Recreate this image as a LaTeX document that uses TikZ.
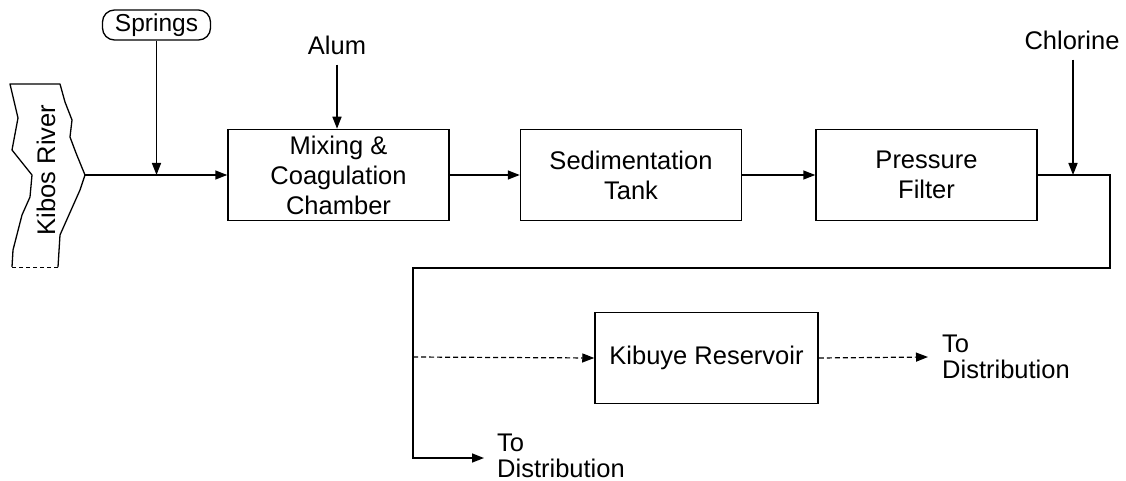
\documentclass[tikz,border=0pt]{standalone}
\usepackage{fontspec}
\setmainfont{Liberation Sans}
\usetikzlibrary{arrows.meta}
\begin{document}
\begin{tikzpicture}[x=1pt,y=-1pt,
  every node/.style={font=\fontsize{25.5}{30}\selectfont},
  processbox/.style={draw, line width=1.5pt, minimum width=221pt, minimum height=91pt, align=center, inner sep=0pt},
  flowarrow/.style={line width=1.6pt, -{Triangle[length=12pt,width=9pt]}},
  dashedarrow/.style={line width=1.2pt, dash pattern=on 5pt off 3pt, -{Triangle[length=12pt,width=9pt]}},
  textlabel/.style={inner sep=0pt},
  outlabel/.style={inner sep=0pt, anchor=base west, align=left, font=\fontsize{25.5}{26}\selectfont}
]
\path[use as bounding box] (0,0) rectangle (1126,481);

% river source outline
\draw[line width=1.3pt, line join=round] (12,267) -- (13,250) -- (22,215) -- (30,197) -- (32,175) -- (12,150) -- (18,118) -- (10,84)
  -- (60,84) -- (65,102) -- (72,120) -- (70,137) -- (76,153) -- (85,175) -- (80,190) -- (60,235) -- (58,267);
\draw[line width=1pt, dash pattern=on 4pt off 3pt] (58,267) -- (12,267);
\node[rotate=90] (river) at (46,170) {Kibos River};
\coordinate (rivout) at (85,175);

% treatment units
\node[processbox] (mix) at (338.5,175) {Mixing \&\\Coagulation\\Chamber};
\node[processbox] (sed) at (631,175) {Sedimentation\\Tank};
\node[processbox] (filt) at (926.5,175) {Pressure\\Filter};
\node[processbox, minimum width=223pt] (res) at (706.5,358) {Kibuye Reservoir};

% additional inputs
\node[draw, rounded corners=12pt, line width=1.3pt, minimum width=108pt, minimum height=30pt, inner sep=0pt,
      font=\fontsize{24.5}{28}\selectfont] (spr) at (156.5,25) {Springs};
\node[textlabel] (alum) at (337,45) {Alum};
\node[textlabel] (chl) at (1072,40) {Chlorine};

% pipe corners
\coordinate (chljoin) at (1073,175);
\coordinate (ne) at (1110,175);
\coordinate (se) at (1110,268);
\coordinate (sw) at (413,268);
\coordinate (tee) at (413,357);
\coordinate (bot) at (413,458);
\coordinate (outA) at (484,458);
\coordinate (outB) at (928,357);

% main flow
\draw[flowarrow] (rivout) -- (mix.west);
\draw[flowarrow] (spr.south) -- (spr.south |- rivout);
\draw[flowarrow] ([yshift=-10pt]alum.south) -- (alum.south |- mix.north);
\draw[flowarrow] (mix) -- (sed);
\draw[flowarrow] (sed) -- (filt);
\draw[flowarrow] ([yshift=-10pt]chl.south -| chljoin) -- (chljoin);
\draw[flowarrow, line join=miter] (filt.east) -- (ne) -- (se) -- (sw) -- (bot) -- (outA);

% reservoir branch
\draw[dashedarrow] (tee) -- (res.west);
\draw[dashedarrow] (res.east) -- (outB);

\node[outlabel] (distA) at (497,477) {To\\Distribution};
\node[outlabel] (distB) at (942,378) {To\\Distribution};
\end{tikzpicture}
\end{document}
